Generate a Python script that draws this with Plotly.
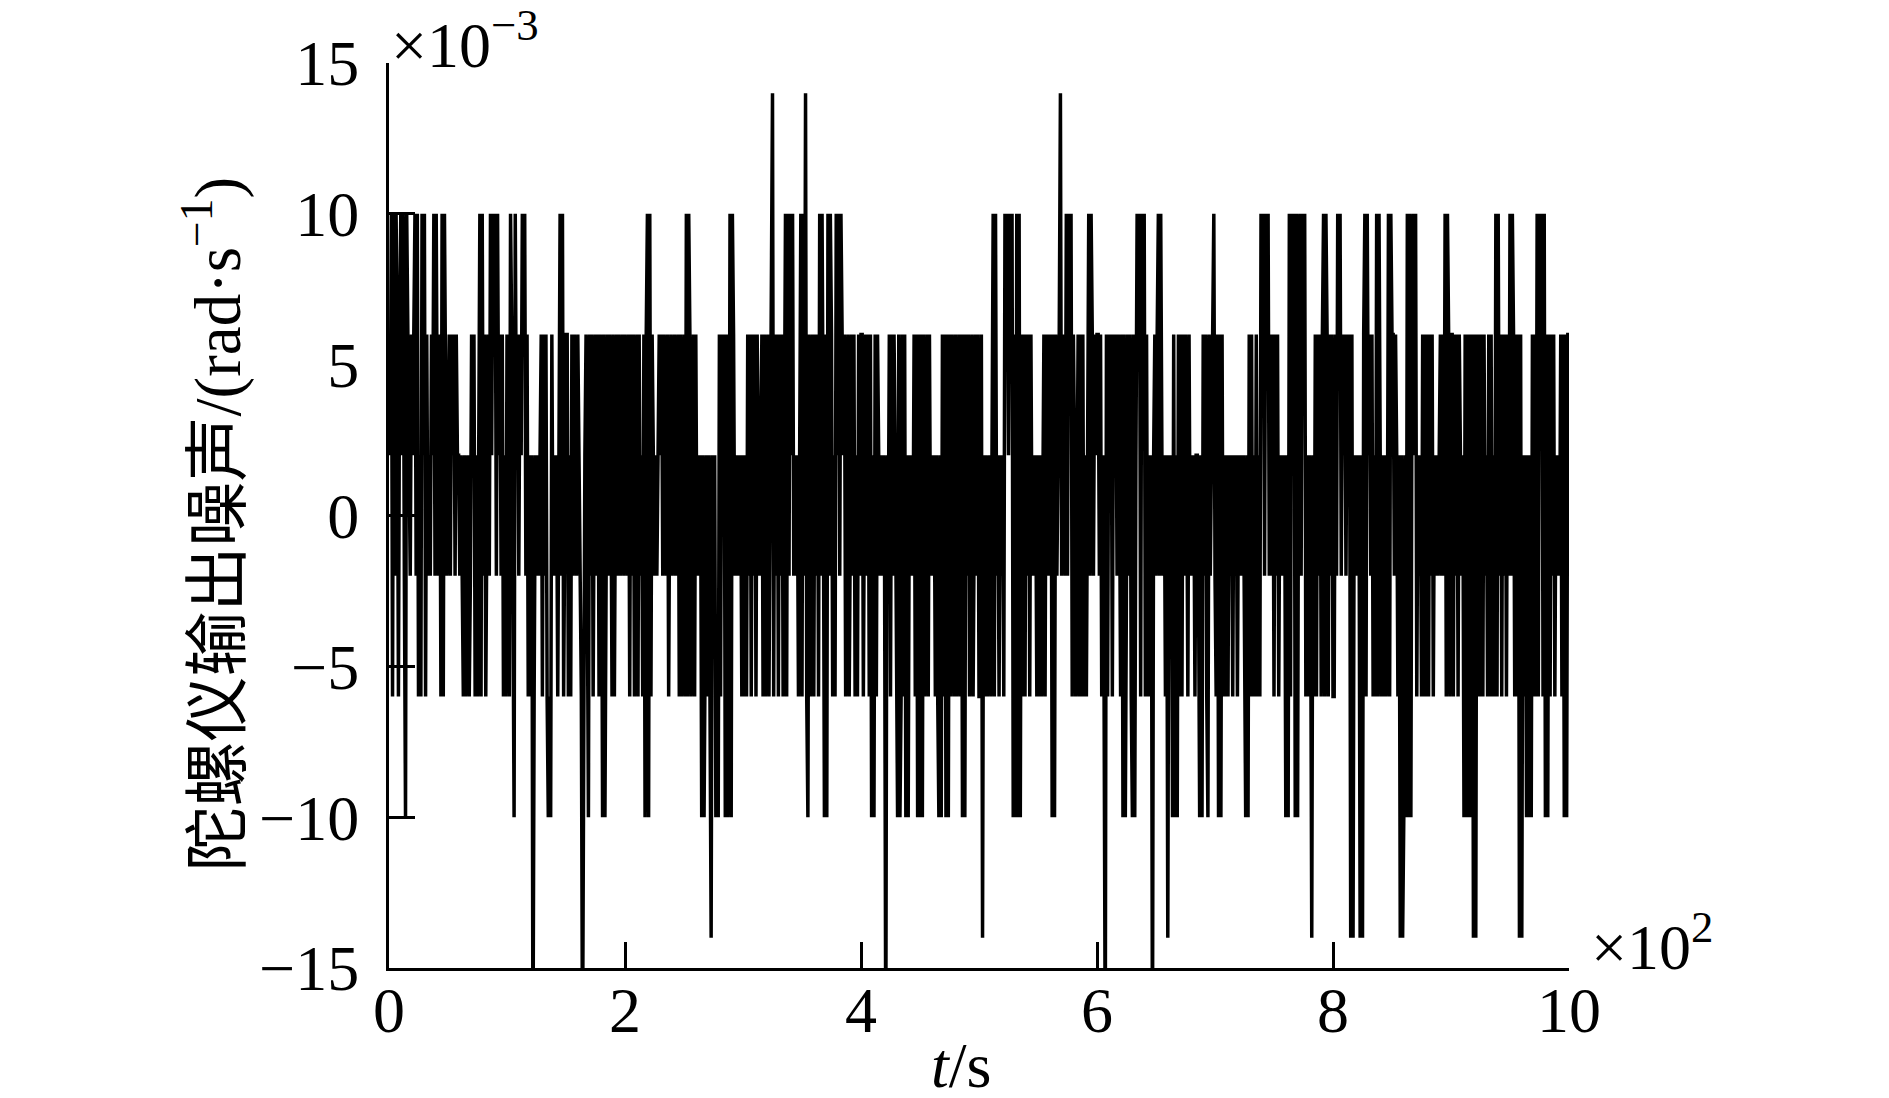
import numpy as np
import plotly.graph_objects as go

# gyro output noise, units of 1e-3 rad/s, one block per 50 s (1 s sampling)
noise_000 = [2, 10, -6, 10, -2, 10, 6, -6, 6, 10,
             2, 10, -2, -10, 10, 6, 2, -2, 6, 2,
             6, 10, -2, 10, -6, 2, -6, 10, 2, 10,
             -6, 6, -2, 2, -2, 6, 2, 10, -2, 10,
             2, -2, 6, -6, 10, -6, 10, 2, -2, 2]
noise_050 = [6, -2, 6, 2, 6, -2, 6, 2, 2, -2,
             2, -2, -6, 2, -6, -2, 2, -6, -2, 6,
             2, 6, -6, 2, -6, 2, 10, -6, 10, -2,
             6, -6, 2, 6, -2, 10, 2, 10, 6, 10,
             -2, 10, 2, 6, -2, 6, -6, 2, -6, 6]
noise_100 = [2, -6, 10, 6, -2, -10, 10, 2, 6, -2,
             6, 2, 10, 6, 10, -2, 6, -6, 2, -6,
             2, -18, -6, 2, -2, 2, -2, 2, 6, -6,
             6, -2, 6, -6, -10, -6, -10, 6, -2, 2,
             -2, 2, -6, 2, 10, -2, 10, -6, 2, 6]
noise_150 = [6, -6, 2, -6, 6, -2, 6, 2, -2, 6,
             2, -2, -6, -18, -6, 2, 6, -6, -10, 6,
             -2, 6, -6, 2, 6, -2, 6, -6, 6, 2,
             -10, 6, -10, -2, 6, -2, 6, 2, -6, 6,
             -6, 2, 6, -2, 6, -2, 2, 6, -2, 6]
noise_200 = [2, -2, 6, -6, 6, -2, 6, -6, 2, 6,
             -6, 6, -2, 2, -6, 6, -10, 6, 10, -10,
             10, -6, 6, 2, -2, 2, -2, 2, 6, 2,
             6, -2, 6, 2, -2, 6, -6, 2, 6, -2,
             2, 6, -2, 2, 6, -6, 6, -6, -2, 6]
noise_250 = [-6, 10, -6, 10, 6, -6, 2, 6, -6, 6,
             -2, 2, -2, 2, -10, 2, -10, -2, 2, -6,
             2, -6, -14, 2, -2, 2, -10, -6, -10, 6,
             -6, 6, 2, 6, -10, 6, -10, -6, 10, -10,
             10, 6, -2, 2, -2, 2, -2, 2, -6, 2]
noise_300 = [-6, 2, -6, 6, -2, 6, -6, 6, -2, 6,
             -6, 6, 2, -2, 2, 6, -6, 6, -6, 2,
             6, -6, 2, 6, 14, -6, 6, -2, 6, -6,
             6, -2, 6, -6, 2, 10, -6, 10, -2, 10,
             2, 10, -2, 2, -2, 2, -6, 2, 10, -6]
noise_350 = [10, -2, 14, -6, -10, 6, -6, 2, 6, -6,
             6, -2, 6, -6, 10, -2, 10, 2, -10, 6,
             -10, 10, -2, 10, 6, -6, 2, -6, 10, 2,
             10, -2, 10, 6, 2, 6, -6, 2, 6, -6,
             2, 6, -2, 6, -6, 2, -6, 6, -2, 6]
noise_400 = [6, -6, 2, 6, -2, 6, -6, 6, -10, 2,
             -10, 6, -6, 6, 2, -2, 2, -2, 2, -2,
             -18, 2, -2, 6, -6, 6, -2, 6, 2, -6,
             -10, 6, -10, -6, 6, -6, 6, -10, 2, -10,
             2, -2, 2, -2, 6, -6, 6, -10, 6, -10]
noise_450 = [6, -10, 6, -6, 2, 6, -6, 6, -2, 2,
             -2, 2, -6, 2, -6, -10, 2, -10, 6, -6,
             6, -10, 6, -10, 6, -6, 6, 2, -6, 6,
             -6, 2, 6, -6, 6, -10, 6, -10, 6, -2,
             6, -6, 2, 6, -6, 2, 6, -2, 6, -6]
noise_500 = [-6, 6, -14, 2, -6, 2, -6, -2, 2, -6,
             2, 10, -6, 10, -2, 2, -6, 2, -2, 2,
             -6, 10, 6, 10, 2, 10, 6, 10, -10, 6,
             -10, 10, -10, 10, -10, 6, -6, 6, -6, 6,
             -2, 6, -6, 6, -2, 2, -2, 2, -6, 2]
noise_550 = [-6, 2, -6, 2, 6, -6, 6, -2, 6, -2,
             6, -10, 6, -10, 6, -2, 2, 6, 14, -2,
             6, 2, -2, 10, -2, 10, 6, 10, -6, 6,
             2, -6, 2, 6, -6, 6, -6, 6, -6, 2,
             -6, 6, 10, -2, 10, 6, -2, 6, 2, 6]
noise_600 = [6, -2, 6, -6, 2, -6, -18, 6, -6, 6,
             2, 6, -6, 6, 2, 6, -2, 6, 2, -6,
             6, -10, 6, -10, 2, 6, -2, 6, -6, -10,
             6, -10, 2, 10, 6, 10, -6, 10, 6, 10,
             -6, 6, -6, 2, -6, 2, -18, 2, 6, -2]
noise_650 = [6, 10, -2, 10, 2, -2, 2, -6, 2, -14,
             2, -2, 2, -10, 6, -10, 2, -10, 6, -6,
             6, -6, 6, -2, 6, 2, -6, 6, -2, 2,
             -2, 2, -6, 2, 2, -2, -10, 2, -10, 6,
             -2, 6, -6, -10, 6, -2, 2, 6, 10, -2]
noise_700 = [-6, 6, -10, 6, -10, 6, -6, 2, -6, 2,
             -6, 2, -2, 2, -6, 2, -2, 2, -6, 2,
             -2, 2, -2, 2, -6, -10, 2, -10, 6, -6,
             6, -6, 2, -6, 6, -6, 2, -6, 10, 6,
             10, -2, 10, 6, 10, -2, 6, -2, 6, -6]
noise_750 = [6, -2, 6, -6, 2, -2, 2, -2, 2, -10,
             2, -10, 10, -6, 10, 2, 10, -10, 10, -10,
             6, 10, -2, 10, 6, 10, -6, 2, -6, 2,
             -2, -14, 2, -6, 6, -6, 6, -2, 6, -6,
             6, 10, -6, 10, 6, -6, 6, -2, 6, -6]
noise_800 = [-6, 6, -2, 10, 6, 10, -2, 6, 2, 6,
             -2, 6, 2, 6, -14, 6, -14, 2, -2, 2,
             -2, 2, -14, 2, -14, 6, 10, -6, 10, 2,
             6, -2, 6, -6, 2, -6, 10, -6, 10, 2,
             -6, 2, -6, 2, -6, -2, 10, -6, 10, 6]
noise_850 = [6, -2, 6, 2, -6, 2, -14, 2, -14, -10,
             2, -10, 10, -10, 10, -10, 6, 10, 2, 10,
             -6, 2, -2, 2, -6, 6, -6, 6, -6, 6,
             -6, 6, -2, 6, -6, 2, -2, 2, -2, 2,
             6, -2, 6, -2, 10, -6, 10, 6, -6, 6]
noise_900 = [6, -6, 6, -2, 6, -6, 6, 2, -2, 2,
             -10, 6, -10, 6, -10, 6, -10, 6, -14, 6,
             -14, 6, -6, 6, -6, 6, -6, 6, -2, 2,
             -6, 6, -6, 6, -6, 2, -6, 10, -6, 10,
             -2, 6, -6, 6, -2, 6, -6, 6, -2, 10]
noise_950 = [-2, 10, 6, -6, 6, -6, 6, -14, 6, -14,
             2, -6, 2, -10, 2, -10, 2, -10, 6, -6,
             6, -6, 10, -6, 10, 6, 10, -6, 10, -10,
             6, -10, 6, -6, 6, -2, 6, -6, 2, -2,
             2, -2, 6, -6, 6, -10, 6, -10, 6, 6]

noise = (noise_000 + noise_050 + noise_100 + noise_150 + noise_200 +
         noise_250 + noise_300 + noise_350 + noise_400 + noise_450 +
         noise_500 + noise_550 + noise_600 + noise_650 + noise_700 +
         noise_750 + noise_800 + noise_850 + noise_900 + noise_950)
t = np.arange(1, len(noise) + 1)  # s

x_tickvals = [0, 200, 400, 600, 800, 1000]
x_ticktext = ["0", "2", "4", "6", "8", "10"]
y_tickvals = [-15, -10, -5, 0, 5, 10, 15]
y_ticktext = ["\u221215", "\u221210", "\u22125", "0", "5", "10", "15"]

serif = "Liberation Serif, Times New Roman, serif"

fig = go.Figure()
fig.add_trace(go.Scatter(x=t, y=noise, mode="lines",
                         line=dict(color="black", width=3.5),
                         showlegend=False))

axis_style = dict(showline=True, linecolor="black", linewidth=3,
                  ticks="inside", ticklen=26, tickwidth=3, tickcolor="black",
                  showgrid=False, zeroline=False, mirror=False,
                  tickfont=dict(family=serif, size=64, color="black"))

fig.update_xaxes(range=[0, 1000], tickmode="array",
                 tickvals=x_tickvals, ticktext=x_ticktext,
                 ticklabelstandoff=-16, **axis_style)
fig.update_yaxes(range=[-15, 15], tickmode="array",
                 tickvals=y_tickvals, ticktext=y_ticktext,
                 ticklabelstandoff=14, **axis_style)

fig.add_annotation(text="\u00d710<sup>\u22123</sup>", xref="paper", yref="paper",
                   x=0, y=1, xanchor="left", yanchor="bottom",
                   xshift=0, yshift=-20, showarrow=False,
                   font=dict(family=serif, size=64, color="black"))
fig.add_annotation(text="\u00d710<sup>2</sup>", xref="paper", yref="paper",
                   x=1, y=0, xanchor="left", yanchor="middle",
                   xshift=20, yshift=26, showarrow=False,
                   font=dict(family=serif, size=64, color="black"))
fig.add_annotation(text="<i>t</i>/s", xref="paper", yref="paper",
                   x=0.485, y=0, xanchor="center", yanchor="top",
                   yshift=-60, showarrow=False,
                   font=dict(family=serif, size=64, color="black"))
fig.add_annotation(text="陀螺仪输出噪声/(rad·s<sup>\u22121</sup>)",
                   xref="paper", yref="paper",
                   x=-0.15, y=0.49, xanchor="center", yanchor="middle",
                   textangle=-90, showarrow=False,
                   font=dict(family="Liberation Serif, Noto Sans CJK SC", size=65,
                             color="black"))

fig.update_layout(width=1889, height=1098,
                  margin=dict(l=381, r=328, t=55, b=138),
                  paper_bgcolor="white", plot_bgcolor="white")

fig.write_html("out.html")
